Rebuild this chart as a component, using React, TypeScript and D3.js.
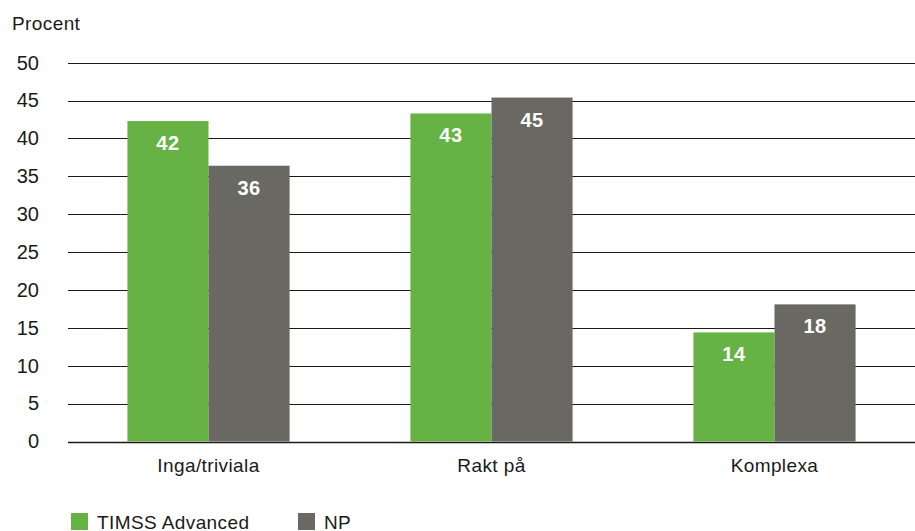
import React from "react";
import * as d3 from "d3";

const categories = ["Inga/triviala", "Rakt på", "Komplexa"];
const seriesNames = ["TIMSS Advanced", "NP"];
const timssValues = [42.3, 43.3, 14.4];
const npValues = [36.4, 45.4, 18.1];
const yTicks = [0, 5, 10, 15, 20, 25, 30, 35, 40, 45, 50];
const colors = ["#66b245", "#6a6863"];

const W = 915;
const H = 531;
const FONT = "'Liberation Sans', Arial, sans-serif";

export default function App() {
  const x0 = d3.scaleBand<string>().domain(categories).range([67, 916]).paddingInner(0.427).paddingOuter(0.2135);
  const x1 = d3.scaleBand<string>().domain(seriesNames).range([0, x0.bandwidth()]).padding(0);
  const y = d3.scaleLinear().domain([0, 50]).range([441.5, 62.7]);
  const series = [timssValues, npValues];

  return (
    <svg width={W} height={H} style={{ position: "absolute", left: 0, top: 0, background: "#fff" }}>
      <text x={12} y={30} fontFamily={FONT} fontSize={19} letterSpacing={0.4} fill="#1a1a1a">Procent</text>
      {yTicks.map((t) => (
        <g key={t}>
          <line x1={68} x2={915} y1={Math.round(y(t)) + 0.5} y2={Math.round(y(t)) + 0.5} stroke="#1a1a1a" strokeWidth={t === 0 ? 1.3 : 1} />
          <text x={39} y={y(t) + 6.8} textAnchor="end" fontFamily={FONT} fontSize={20} fill="#1a1a1a">{t}</text>
        </g>
      ))}
      {categories.map((c, ci) => (
        <g key={c} transform={`translate(${x0(c)},0)`}>
          {seriesNames.map((s, si) => {
            const v = series[si][ci];
            const bx = x1(s)!;
            const bw = x1.bandwidth();
            return (
              <g key={s}>
                <rect x={bx} y={y(v)} width={bw} height={y(0) - y(v)} fill={colors[si]} />
                <text x={bx + bw / 2} y={y(v) + 29} textAnchor="middle" fontFamily={FONT} fontSize={20} fontWeight="bold" letterSpacing={0.5} fill="#fff">
                  {Math.round(v)}
                </text>
              </g>
            );
          })}
          <text x={x0.bandwidth() / 2} y={472} textAnchor="middle" fontFamily={FONT} fontSize={19} letterSpacing={0.4} fill="#1a1a1a">{c}</text>
        </g>
      ))}
      {seriesNames.map((s, si) => (
        <g key={s} transform={`translate(${71 + si * 227},513)`}>
          <rect x={0} y={0} width={17} height={17} fill={colors[si]} />
          <text x={26} y={16} fontFamily={FONT} fontSize={19} letterSpacing={0.4} fill="#1a1a1a">{s}</text>
        </g>
      ))}
    </svg>
  );
}
